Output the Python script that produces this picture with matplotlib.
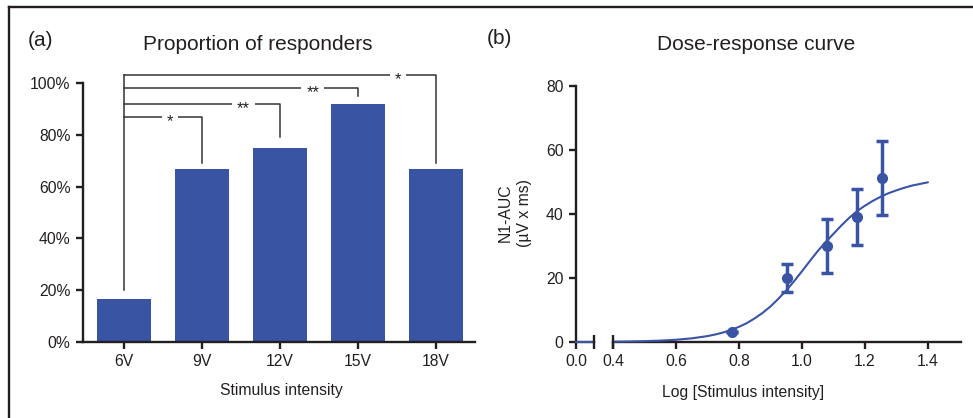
import matplotlib
matplotlib.use("Agg")
import matplotlib.pyplot as plt
from matplotlib.lines import Line2D

plt.rcParams['font.family'] = ['Liberation Sans', 'DejaVu Sans']

# ---------------- data ----------------
categories = ["6V", "9V", "12V", "15V", "18V"]
responders_pct = [16.7, 66.7, 75.0, 91.7, 66.7]
yticks_a = [0, 20, 40, 60, 80, 100]

# significance brackets: (target index, bracket height %, drop-to %, label, label x)
brackets = [
    (1, 87, 69, "*", 0.59),
    (2, 92, 79, "**", 1.53),
    (3, 98, 95, "**", 2.42),
    (4, 103, 69, "*", 3.51),
]

log_intensity = [0.778, 0.954, 1.079, 1.176, 1.255]
n1_auc = [3.1, 20.0, 30.0, 39.1, 51.3]
n1_err = [0.0, 4.5, 8.3, 8.8, 11.6]

curve_x = [0.40, 0.45, 0.50, 0.55, 0.60, 0.65, 0.70, 0.725, 0.75, 0.775, 0.80,
           0.825, 0.85, 0.875, 0.90, 0.925, 0.95, 0.975, 1.00, 1.025, 1.05,
           1.075, 1.10, 1.125, 1.15, 1.175, 1.20, 1.225, 1.25, 1.275, 1.30,
           1.325, 1.35, 1.375, 1.40]
curve_y = [0.1, 0.16, 0.26, 0.43, 0.70, 1.14, 1.85, 2.35, 2.98, 3.78, 4.74,
           5.9, 7.4, 9.1, 11.1, 13.5, 16.1, 19.0, 22.1, 25.3, 28.4,
           31.2, 33.8, 36.4, 38.8, 40.9, 42.6, 44.1, 45.4, 46.5, 47.4,
           48.2, 48.9, 49.4, 49.9]
xticks_b = [0.4, 0.6, 0.8, 1.0, 1.2, 1.4]
yticks_b = [0, 20, 40, 60, 80]

BLUE = "#3a54a4"
INK = "#231f20"
W, H = 973, 418

fig = plt.figure(figsize=(W / 100, H / 100), dpi=100)

def fx(px):
    return px / W

def fy(py):
    return 1 - py / H

SPW = 1.7

# ---------------- panel (a) ----------------
ax1 = fig.add_axes([fx(83), fy(342), fx(475 - 83), (342 - 70) / H])
xs = list(range(len(categories)))
ax1.bar(xs, responders_pct, width=0.7, color=BLUE, zorder=2)
ax1.set_xlim(-0.526, 4.5)
ax1.set_ylim(0, 105)
for s in ["top", "right"]:
    ax1.spines[s].set_visible(False)
ax1.spines["left"].set_bounds(0, 100)
for s in ["left", "bottom"]:
    ax1.spines[s].set_linewidth(SPW)
    ax1.spines[s].set_color(INK)
ax1.set_xticks(xs)
ax1.set_xticklabels(categories)
ax1.set_yticks(yticks_a)
ax1.set_yticklabels([f"{v}%" for v in yticks_a])
ax1.tick_params(direction="out", length=5, width=SPW, labelsize=11.3,
                colors=INK, pad=4)

BR = "#333333"
ax1.plot([0, 0], [20, 103], color=BR, lw=1.1, clip_on=False, zorder=3)
for idx, yb, ydrop, lab, lx in brackets:
    ax1.plot([0, idx, idx], [yb, yb, ydrop], color=BR, lw=1.1,
             clip_on=False, zorder=3)
    ax1.text(lx, yb - 1.8, lab, ha="center", va="center", fontsize=12,
             color=INK, zorder=4,
             bbox=dict(boxstyle="square,pad=0.3", fc="white", ec="none"))

fig.text(fx(28), fy(40), "(a)", fontsize=15, color=INK, va="center", ha="left")
fig.text(fx(258), fy(45), "Proportion of responders", fontsize=15,
         color=INK, ha="center", va="center")
fig.text(fx(281), fy(391), "Stimulus intensity", fontsize=11.3, color=INK,
         ha="center", va="center")

# ---------------- panel (b) ----------------
bot = fy(342)
hgt = (342 - 86) / H
axb = fig.add_axes([fx(576), bot, fx(18), hgt])
axm = fig.add_axes([fx(613), bot, fx(961 - 613), hgt])

axb.set_xlim(0, 0.057)
axb.set_ylim(0, 80)
axm.set_xlim(0.4, 1.505)
axm.set_ylim(0, 80)

for s in ["top", "right"]:
    axb.spines[s].set_visible(False)
for s in ["top", "right", "left"]:
    axm.spines[s].set_visible(False)
for a in (axb, axm):
    for s in ["left", "bottom"]:
        a.spines[s].set_linewidth(SPW)
        a.spines[s].set_color(INK)
    a.tick_params(direction="out", length=5, width=SPW, labelsize=11.3,
                  colors=INK, pad=4)

axb.set_xticks([0.0])
axb.set_xticklabels(["0.0"])
axb.set_yticks(yticks_b)
axb.set_yticklabels([str(v) for v in yticks_b])
axm.set_yticks([])
axm.set_xticks(xticks_b)
axm.set_xticklabels([f"{v:.1f}" for v in xticks_b])

# break marks
axb.plot([0.057], [0], marker="|", ms=10, mew=SPW, color=INK, clip_on=False, zorder=5)
axm.plot([0.4], [0], marker="|", ms=10, mew=SPW, color=INK, clip_on=False, zorder=5)

# curve
axb.plot([0.0, 0.057], [0.0, 0.0], color=BLUE, lw=1.5, clip_on=False, zorder=4)
axm.plot(curve_x, curve_y, color=BLUE, lw=1.5, clip_on=False, zorder=4,
         solid_capstyle="round", solid_joinstyle="round")
axm.errorbar(log_intensity, n1_auc, yerr=n1_err, fmt="o", color=BLUE,
             ms=7, elinewidth=2.5, capsize=4.5, capthick=2.5,
             clip_on=False, zorder=5)

fig.text(fx(487), fy(39), "(b)", fontsize=15, color=INK, va="center", ha="left")
fig.text(fx(756), fy(45), "Dose-response curve", fontsize=15, color=INK,
         ha="center", va="center")
fig.text(fx(743), fy(392), "Log [Stimulus intensity]", fontsize=11.3, color=INK,
         ha="center", va="center")
fig.text(fx(515), fy(213), "N1-AUC\n(\u00b5V x ms)", fontsize=11.3, color=INK,
         rotation=90, ha="center", va="center", multialignment="center",
         linespacing=1.3)

# outer frame (top and left)
fig.add_artist(Line2D([fx(8.5), 1.0], [fy(6.5), fy(6.5)], transform=fig.transFigure,
                      color=INK, lw=1.7))
fig.add_artist(Line2D([fx(8.5), fx(8.5)], [fy(6.5), 0.0], transform=fig.transFigure,
                      color=INK, lw=1.7))

fig.savefig("out.png", dpi=100)
